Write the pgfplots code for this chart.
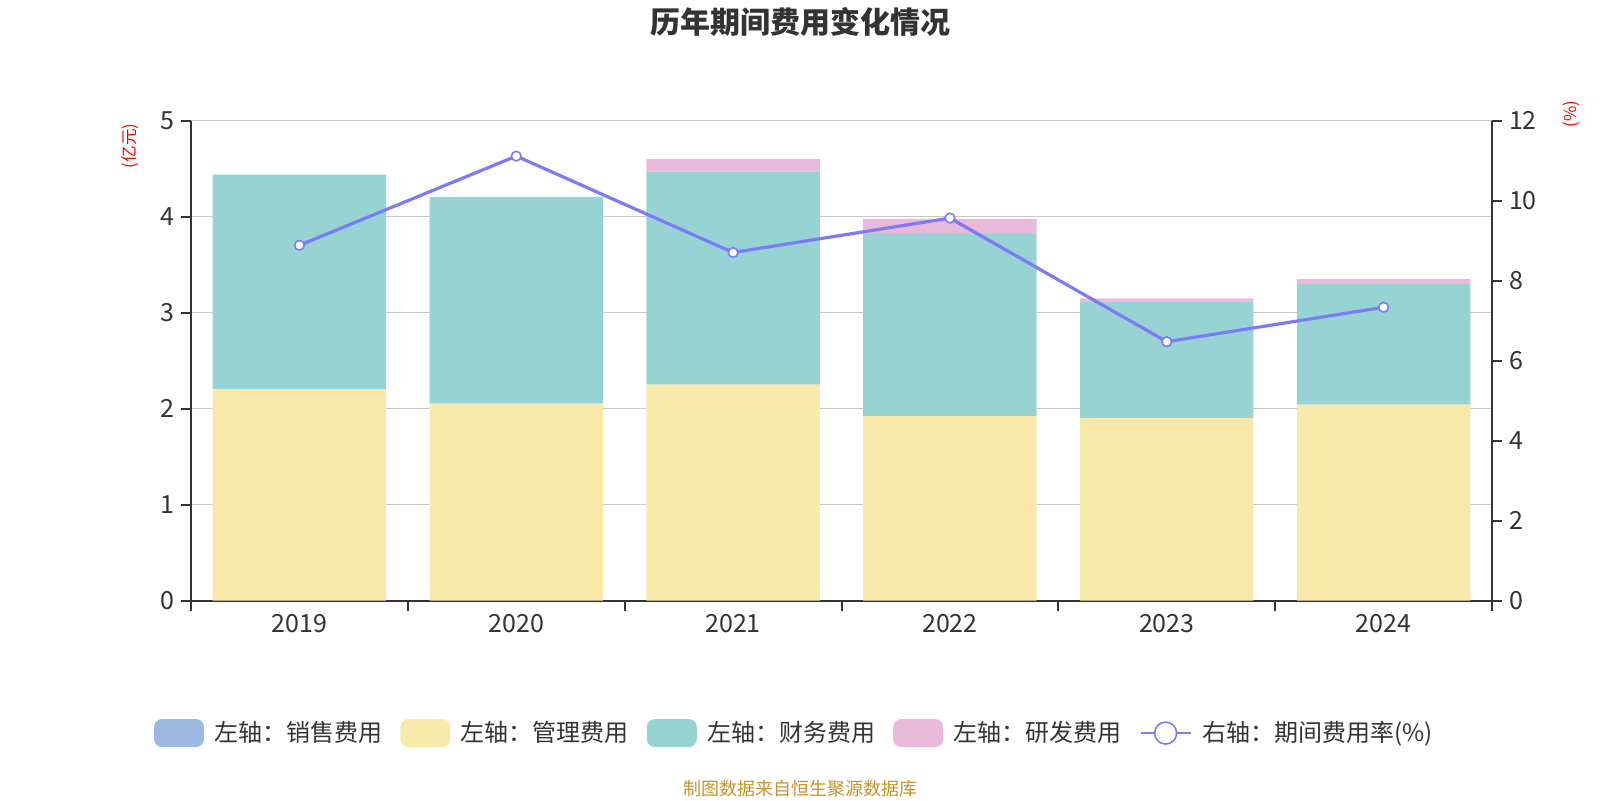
\documentclass[border=0pt]{standalone}
\usepackage{fontspec}
\setmainfont{Noto Sans CJK SC}
\usepackage{pgfplots}
\pgfplotsset{compat=1.18}
\definecolor{cblue}{HTML}{9CB8E0}
\definecolor{cyellow}{HTML}{F8E8AA}
\definecolor{cteal}{HTML}{98D3D3}
\definecolor{cpink}{HTML}{E8B9D8}
\definecolor{cline}{HTML}{7B7CF5}
\definecolor{textc}{HTML}{333333}
\definecolor{axisc}{HTML}{333333}
\definecolor{gridc}{HTML}{C8C8C8}
\definecolor{footc}{HTML}{C8922A}
\pgfplotsset{
  common/.style={
    at={(95.5pt,99.75pt)}, anchor=south west, scale only axis,
    width=650.5pt, height=240pt,
    xmin=-0.5, xmax=5.5,
    tick align=outside, major tick length=5pt,
    axis line style={color=axisc, line width=1pt},
    tick style={color=axisc, line width=1pt},
    /pgf/number format/assume math mode=true,
    ticklabel style={font=\fontsize{12.5}{14}\selectfont, color=textc},
  },
  barleg/.style={fill=#1, legend image code/.code={\fill[##1, draw=none, rounded corners=4pt] (0pt,-7pt) rectangle (25pt,7pt); \path (28pt,0pt);}},
  lineleg/.style={legend image code/.code={\draw[color=cline, line width=1pt] (0pt,0pt) -- (25pt,0pt); \draw[color=cline, fill=white, line width=0.8pt] (12.5pt,0pt) circle (5.5pt); \path (28pt,0pt);}},
}
\begin{document}
\begin{tikzpicture}
\useasboundingbox (0,0) rectangle (800pt,400pt);
\begin{axis}[common,
  ymin=0, ymax=5,
  ybar stacked, bar width=0.8,
  axis x line*=bottom, axis y line*=left,
  xtick={-0.5,0.5,...,5.5}, xticklabels={},
  extra x ticks={0,1,2,3,4,5},
  extra x tick labels={2019,2020,2021,2022,2023,2024},
  extra x tick style={major tick length=0pt, tick label style={yshift=-3.5pt}},
  ytick={0,1,...,5}, ymajorgrids,
  grid style={color=gridc, line width=0.75pt},
  ylabel={(亿元)},
  ylabel style={at={(axis description cs:-0.0465,0.947)}, anchor=center, color=red, font=\fontsize{8.3}{9}\selectfont},
]
\addplot[fill=cblue, draw=none] coordinates {(0,0) (1,0) (2,0) (3,0) (4,0) (5,0)};
\addplot[fill=cyellow, draw=none] coordinates {(0,2.20) (1,2.05) (2,2.25) (3,1.92) (4,1.90) (5,2.04)};
\addplot[fill=cteal, draw=none] coordinates {(0,2.235) (1,2.155) (2,2.219) (3,1.90) (4,1.215) (5,1.255)};
\addplot[fill=cpink, draw=none] coordinates {(0,0) (1,0) (2,0.128) (3,0.155) (4,0.031) (5,0.052)};
\end{axis}
\begin{axis}[common,
  ymin=0, ymax=12, ytick={0,2,...,12},
  axis y line*=right, axis x line=none,
  ylabel={(\%)},
  ylabel style={at={(axis description cs:1.0607,1.013)}, anchor=center, rotate=0, color=red, font=\fontsize{8.3}{9}\selectfont},
  legend columns=5,
  legend style={at={(axis description cs:0.4645,-0.2762)}, anchor=center, draw=none, fill=none,
    font=\fontsize{12}{14}\selectfont, text=textc,
    /tikz/every even column/.append style={column sep=7pt}},
]
\addlegendimage{barleg=cblue}
\addlegendentry{左轴：销售费用}
\addlegendimage{barleg=cyellow}
\addlegendentry{左轴：管理费用}
\addlegendimage{barleg=cteal}
\addlegendentry{左轴：财务费用}
\addlegendimage{barleg=cpink}
\addlegendentry{左轴：研发费用}
\addplot[color=cline, line width=1.6pt, mark=*, mark size=2.4pt,
  mark options={fill=white, draw=cline, line width=0.8pt}, lineleg]
  coordinates {(0,8.88) (1,11.11) (2,8.70) (3,9.56) (4,6.47) (5,7.33)};
\addlegendentry{右轴：期间费用率(\%)}
\end{axis}
\node[font=\fontsize{15}{17}\selectfont\bfseries, color=textc] at (400pt,388.8pt) {历年期间费用变化情况};
\node[font=\fontsize{9}{10}\selectfont, color=footc] at (400pt,5.8pt) {制图数据来自恒生聚源数据库};
\end{tikzpicture}
\end{document}
